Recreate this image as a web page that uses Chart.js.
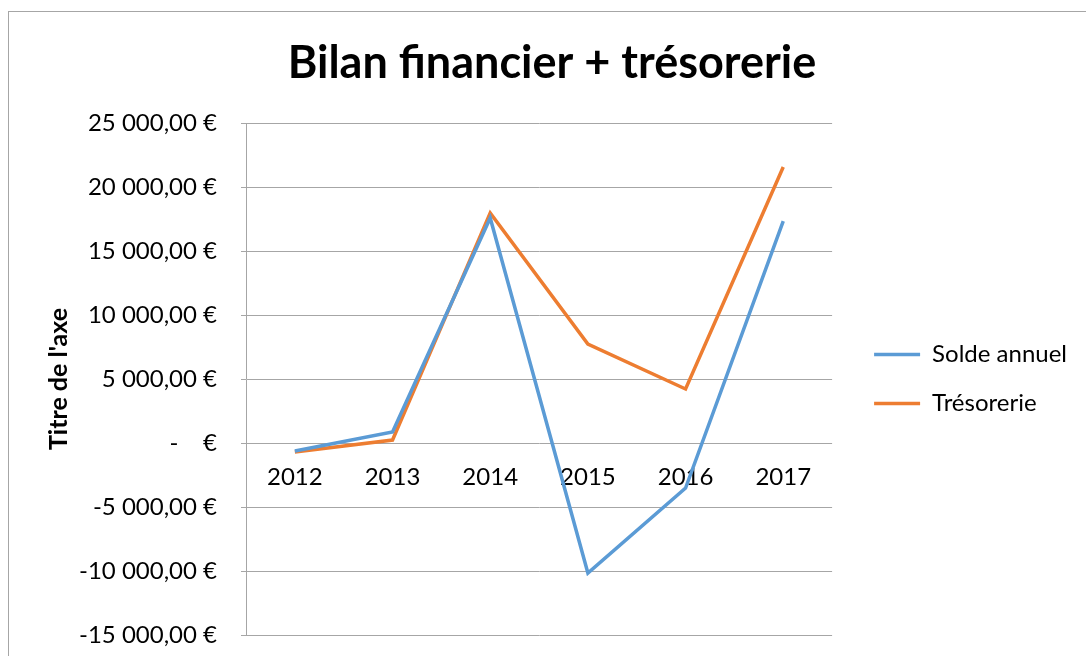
<!DOCTYPE html>
<html>
<head>
<meta charset="utf-8">
<script src="https://cdn.jsdelivr.net/npm/chart.js@4"></script>
<style>
  body { margin: 0; overflow: hidden; background: #fff; }
  #wrap { position: relative; width: 1086px; height: 656px; }
  #frame { position: absolute; left: 8px; top: 11px; width: 1200px; height: 800px; border: 1px solid #a6a6a6; pointer-events: none; }
</style>
</head>
<body>
<div id="wrap">
  <canvas id="bilanChart"></canvas>
  <div id="frame"></div>
</div>
<script>
// data
const years = ['2012', '2013', '2014', '2015', '2016', '2017'];
const soldeAnnuel = [-625, 860, 17580, -10160, -3520, 17340];
const tresorerie = [-700, 230, 17970, 7730, 4220, 21560];

const blue = '#5b9bd5';
const orange = '#ed7d31';
const gridGrey = '#a6a6a6';
const font = 'Lato';

// "25 000,00 €" style labels, zero shown as "-   €"
function euro(value) {
  if (value === 0) return '-\u00a0\u00a0\u00a0\u00a0€';
  const sign = value < 0 ? '-' : '';
  const int = Math.abs(value).toFixed(0).replace(/\B(?=(\d{3})+(?!\d))/g, ' ');
  return sign + int + ',00 €';
}

// push the legend a bit away from the plot area
const legendNudge = {
  id: 'legendNudge',
  afterLayout(chart) {
    chart.legend.left += 17;
    chart.legend.right += 17;
  }
};

const ctx = document.getElementById('bilanChart').getContext('2d');

const myChart = new Chart(ctx, {
  type: 'line',
  data: {
    labels: years,
    datasets: [
      {
        label: 'Solde annuel',
        data: soldeAnnuel,
        borderColor: blue,
        backgroundColor: blue,
        borderWidth: 3.5,
        pointRadius: 0,
        tension: 0
      },
      {
        label: 'Trésorerie',
        data: tresorerie,
        borderColor: orange,
        backgroundColor: orange,
        borderWidth: 3.5,
        pointRadius: 0,
        tension: 0
      }
    ]
  },
  options: {
    responsive: true,
    maintainAspectRatio: false,
    animation: false,
    layout: {
      padding: { left: 44, right: 26, top: 0, bottom: 0 }
    },
    scales: {
      x: {
        position: { y: 0 },
        offset: true,
        grid: { display: false },
        border: { display: false },
        ticks: {
          color: '#000',
          padding: 12,
          font: { family: font, size: 24 }
        }
      },
      y: {
        min: -15000,
        max: 25000,
        afterFit: (scale) => {
          scale.width = 202;
          scale.paddingBottom = 21;
        },
        ticks: {
          stepSize: 5000,
          color: '#000',
          padding: 24,
          font: { family: font, size: 24 },
          callback: (value) => euro(value)
        },
        grid: {
          color: gridGrey,
          lineWidth: 1,
          drawTicks: true,
          tickLength: 5
        },
        border: { color: gridGrey },
        title: {
          display: true,
          text: "Titre de l'axe",
          color: '#000',
          font: { family: font, size: 25, weight: 'bold' },
          padding: { top: 0, bottom: 0 }
        }
      }
    },
    plugins: {
      title: {
        display: true,
        text: 'Bilan financier + trésorerie',
        color: '#000',
        font: { family: font, size: 45, weight: 'bold' },
        padding: { top: 36, bottom: 33 }
      },
      legend: {
        position: 'right',
        fullSize: false,
        labels: {
          color: '#000',
          font: { family: font, size: 24 },
          usePointStyle: true,
          pointStyle: 'line',
          pointStyleWidth: 46,
          padding: 25
        }
      },
      tooltip: { enabled: false }
    }
  },
  plugins: [legendNudge]
});
</script>
</body>
</html>
